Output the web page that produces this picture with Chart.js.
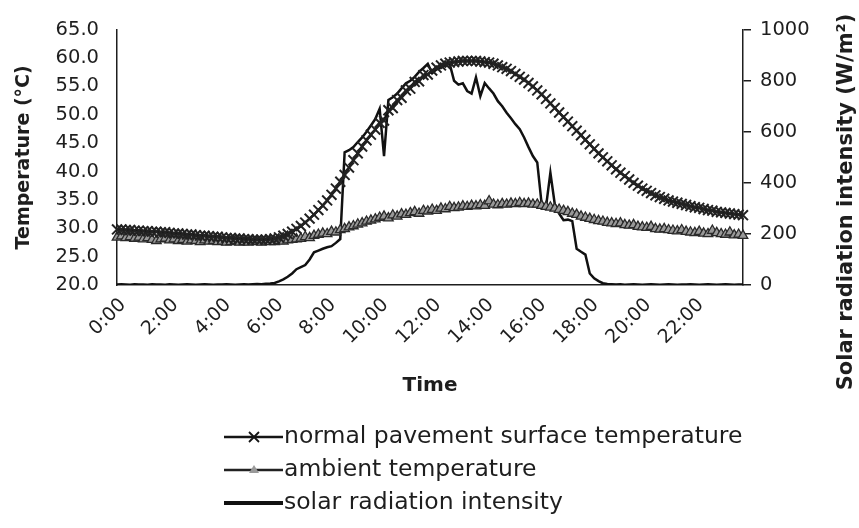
<!DOCTYPE html>
<html>
<head>
<meta charset="utf-8">
<script src="https://cdn.jsdelivr.net/npm/chart.js@4.4.1/dist/chart.umd.min.js"></script>
<style>
html, body { margin: 0; padding: 0; background: #fff; }
#wrap { width: 859px; height: 528px; }
</style>
</head>
<body>
<div id="wrap"><canvas id="chart" width="859" height="528"></canvas></div>
<script>
// readings every 10 minutes, 0:00 .. 23:50
const times = [];
for (let h = 0; h < 24; h++) for (let m = 0; m < 60; m += 10) times.push(h + ':' + (m < 10 ? '0' + m : m));

const timeTicks = ['0:00', '2:00', '4:00', '6:00', '8:00', '10:00', '12:00', '14:00', '16:00', '18:00', '20:00', '22:00'];

const pavementTemp = [
  29.8, 29.8, 29.7, 29.7, 29.6, 29.6,
  29.5, 29.5, 29.4, 29.4, 29.3, 29.3,
  29.2, 29.1, 29.1, 29.0, 28.9, 28.9,
  28.8, 28.7, 28.7, 28.6, 28.5, 28.5,
  28.4, 28.3, 28.3, 28.2, 28.2, 28.1,
  28.1, 28.0, 28.0, 28.0, 28.0, 28.1,
  28.2, 28.4, 28.7, 29.0, 29.4, 29.9,
  30.4, 31.0, 31.7, 32.4, 33.2, 34.0,
  34.9, 35.9, 37.0, 38.2, 39.4, 40.7,
  42.0, 43.2, 44.4, 45.5, 46.5, 47.4,
  48.6, 49.0, 50.8, 51.2, 52.6, 53.0,
  54.3, 54.6, 55.8, 55.9, 57.0, 57.1,
  57.8, 58.3, 58.7, 59.0, 59.2, 59.3,
  59.4, 59.5, 59.5, 59.5, 59.5, 59.4,
  59.3, 59.2, 59.0, 58.7, 58.4, 58.1,
  57.7, 57.2, 56.7, 56.2, 55.6, 55.0,
  54.3, 53.6, 52.8, 52.0, 51.2, 50.4,
  49.6, 48.8, 48.0, 47.2, 46.4, 45.6,
  44.8, 44.0, 43.2, 42.5, 41.8, 41.1,
  40.4, 39.8, 39.2, 38.6, 38.0, 37.5,
  37.0, 36.6, 36.2, 35.8, 35.5, 35.2,
  34.9, 34.7, 34.5, 34.3, 34.1, 33.9,
  33.7, 33.6, 33.4, 33.2, 33.1, 32.9,
  32.8, 32.7, 32.6, 32.5, 32.4, 32.3
];

const ambientTemp = [
  28.4, 28.6, 28.3, 28.5, 28.2, 28.4,
  28.1, 28.3, 28.0, 27.8, 28.1, 28.2,
  27.9, 28.1, 27.8, 28.0, 27.7, 27.9,
  27.8, 27.6, 27.9, 27.7, 27.8, 27.6,
  27.7, 27.5, 27.6, 27.8, 27.5, 27.6,
  27.5, 27.7, 27.6, 27.5, 27.7, 27.6,
  27.6, 27.8, 27.7, 27.9, 28.0, 28.1,
  28.2, 28.5, 28.3, 28.7, 28.9, 29.1,
  29.0, 29.4, 29.3, 29.7, 29.9, 30.2,
  30.4, 30.7, 30.9, 31.2, 31.4, 31.6,
  31.9, 32.1, 31.8, 32.3, 32.1, 32.5,
  32.4, 32.7, 32.9, 32.6, 33.1, 33.0,
  33.3, 33.1, 33.5, 33.4, 33.8, 33.6,
  33.7, 33.9, 33.8, 34.0, 33.9, 34.1,
  34.0, 34.8, 34.2, 34.1, 34.3, 34.2,
  34.4, 34.3, 34.5, 34.3, 34.4, 34.2,
  34.2, 34.0, 33.8, 33.7, 33.5, 33.3,
  33.1, 32.9, 32.6, 32.4, 32.1, 31.9,
  31.7, 31.5, 31.3, 31.2, 31.0, 30.9,
  30.8, 30.9, 30.6, 30.5, 30.6, 30.3,
  30.2, 30.1, 30.3, 29.9, 29.8, 29.9,
  29.7, 29.6, 29.5, 29.7, 29.4, 29.3,
  29.2, 29.4, 29.1, 29.0, 29.6, 29.2,
  29.0, 28.9, 29.3, 28.8, 28.9, 28.7
];

const solarRadiation = [
  2, 3, 2, 1, 3, 2,
  2, 1, 3, 2, 2, 1,
  3, 2, 1, 2, 3, 2,
  1, 2, 3, 2, 1, 2,
  2, 3, 2, 1, 2, 3,
  2, 3, 4, 3, 5, 6,
  8, 14, 22, 32, 45, 62,
  70, 78, 100, 128, 135, 142,
  148, 152, 165, 180, 520, 528,
  540, 560, 578, 600, 625, 650,
  690, 505, 725, 735, 750, 770,
  790, 800, 815, 835, 850, 866,
  830, 845, 851, 860, 866, 800,
  785, 790, 760, 750, 813, 740,
  791, 770, 750, 720, 700, 675,
  653, 630, 610, 578, 540, 505,
  480, 317, 306, 440, 317, 280,
  254, 256, 250, 142, 130, 119,
  45, 26, 15, 7, 4, 3,
  2, 3, 1, 2, 3, 2,
  1, 2, 3, 2, 1, 2,
  3, 2, 1, 2, 2, 3,
  2, 1, 2, 3, 2, 1,
  2, 3, 2, 1, 2, 2
];

const FONT = "'DejaVu Sans', sans-serif";
const INK = '#1e1e1e';

// legend in three rows under the axis + right title reading bottom-to-top
const extras = {
  id: 'extras',
  afterDraw(chart) {
    const ctx = chart.ctx;
    ctx.save();
    chart.data.datasets.forEach((ds, i) => {
      const y = 437 + i * 33;
      ctx.strokeStyle = ds.borderColor;
      ctx.lineWidth = i === 2 ? 4 : 2.5;
      ctx.beginPath(); ctx.moveTo(224, y); ctx.lineTo(283, y); ctx.stroke();
      if (ds.pointStyle === 'crossRot') {
        ctx.lineWidth = 1.8;
        ctx.beginPath();
        ctx.moveTo(249, y - 5); ctx.lineTo(259, y + 5);
        ctx.moveTo(259, y - 5); ctx.lineTo(249, y + 5);
        ctx.stroke();
      } else if (ds.pointStyle === 'triangle') {
        ctx.fillStyle = ds.pointBackgroundColor;
        ctx.beginPath(); ctx.moveTo(254, y - 5); ctx.lineTo(259, y + 3); ctx.lineTo(249, y + 3); ctx.closePath(); ctx.fill();
      }
      ctx.fillStyle = INK;
      ctx.font = "23.5px " + FONT;
      ctx.textAlign = 'left'; ctx.textBaseline = 'middle';
      ctx.fillText(ds.label, 284, y);
    });
    ctx.translate(847, 202);
    ctx.rotate(-Math.PI / 2);
    ctx.font = "bold 21px " + FONT;
    ctx.textAlign = 'center'; ctx.textBaseline = 'middle';
    ctx.fillText('Solar radiation intensity (W/m\u00B2)', 0, 0);
    ctx.restore();
  }
};

new Chart(document.getElementById('chart'), {
  type: 'line',
  data: {
    labels: times,
    datasets: [
      {
        label: 'normal pavement surface temperature',
        data: pavementTemp, yAxisID: 'y',
        borderColor: '#151515', borderWidth: 2.5,
        pointStyle: 'crossRot', pointRadius: 7, pointBorderWidth: 2,
        pointBorderColor: '#222', pointBackgroundColor: '#222'
      },
      {
        label: 'ambient temperature',
        data: ambientTemp, yAxisID: 'y',
        borderColor: '#222', borderWidth: 2,
        pointStyle: 'triangle', pointRadius: 5.5, pointBorderWidth: 1.3,
        pointBorderColor: '#2a2a2a', pointBackgroundColor: '#999'
      },
      {
        label: 'solar radiation intensity',
        data: solarRadiation, yAxisID: 'y1',
        borderColor: '#111', borderWidth: 2.5,
        pointRadius: 0
      }
    ]
  },
  options: {
    responsive: false,
    animation: false,
    layout: { padding: { top: 17, left: 0, right: 0, bottom: 123 } },
    plugins: { legend: { display: false }, tooltip: { enabled: false } },
    scales: {
      x: {
        type: 'category',
        offset: false,
        afterFit: s => { s.height = 120; },
        grid: { drawOnChartArea: false, drawTicks: false },
        border: { color: INK, width: 1.5 },
        ticks: {
          autoSkip: false, minRotation: 45, maxRotation: 45, padding: 9, labelOffset: 6,
          color: INK, font: { family: FONT, size: 19 },
          callback: function (v) { const t = this.getLabelForValue(v); return timeTicks.includes(t) ? t : ''; }
        },
        title: { display: true, text: 'Time', color: INK, font: { family: FONT, size: 20, weight: 'bold' }, padding: { top: 0, bottom: 7 } }
      },
      y: {
        position: 'left', min: 20, max: 65,
        afterFit: s => { s.width = 117; },
        grid: { drawOnChartArea: false, drawTicks: false },
        border: { color: INK, width: 1.5 },
        ticks: { stepSize: 5, padding: 18, color: INK, font: { family: FONT, size: 19.5 }, callback: v => v.toFixed(1) },
        title: { display: true, text: 'Temperature (\u00B0C)', color: INK, font: { family: FONT, size: 19, weight: 'bold' }, padding: { top: 13, bottom: 0 } }
      },
      y1: {
        position: 'right', min: 0, max: 1000,
        afterFit: s => { s.width = 116; },
        grid: { drawOnChartArea: false, drawTicks: true, tickLength: 8, color: INK, lineWidth: 1.5 },
        border: { color: INK, width: 1.5 },
        ticks: { stepSize: 200, padding: 9, color: INK, font: { family: FONT, size: 19.5 }, callback: v => String(v) }
      }
    }
  },
  plugins: [extras]
});
</script>
</body>
</html>
